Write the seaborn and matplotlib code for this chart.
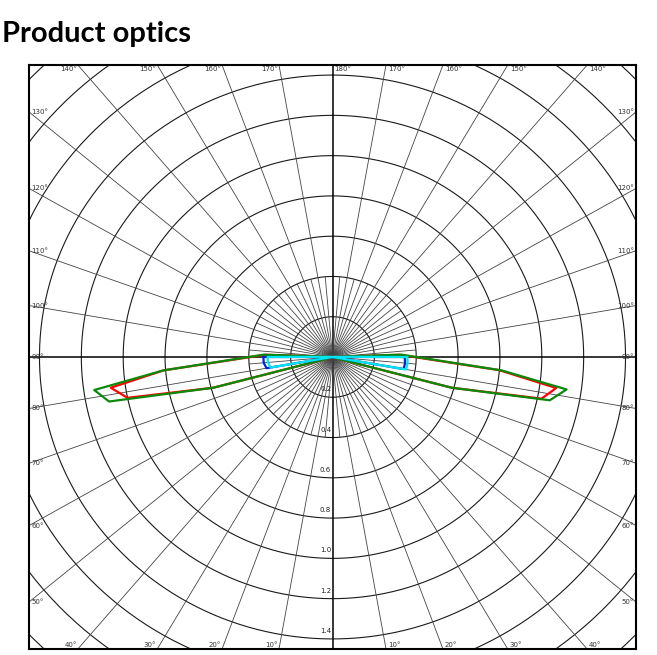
import numpy as np
import pandas as pd
import seaborn as sns
import matplotlib.pyplot as plt

# gamma angle (deg from nadir) and relative intensity
gamma_rg = [0, 65, 70, 75, 78.3, 81.8, 85.3, 92, 96, 180]
green_left = [0, 0, 0.02, 0.59, 1.09, 1.15, 0.81, 0.33, 0.01, 0]
green_right = [0, 0, 0.02, 0.59, 1.06, 1.13, 0.81, 0.33, 0.01, 0]
red_left = [0, 0, 0.02, 0.59, 1.00, 1.07, 0.81, 0.32, 0.01, 0]
red_right = [0, 0, 0.02, 0.59, 1.02, 1.08, 0.80, 0.32, 0.01, 0]

gamma_bc = [0, 75, 80, 85, 90, 95, 180]
blue_left = [0, 0, 0.32, 0.33, 0.33, 0, 0]
blue_right = [0, 0, 0.345, 0.348, 0.345, 0, 0]
cyan_left = [0, 0, 0.30, 0.31, 0.31, 0.01, 0]
cyan_right = [0, 0, 0.357, 0.36, 0.358, 0.01, 0]

ring_labels = ["0.2", "0.4", "0.6", "0.8", "1.0", "1.2", "1.4"]
ring_vals = [0.2, 0.4, 0.6, 0.8, 1.0, 1.2, 1.4]
curve_colors = {"red": "#ff0000", "green": "#0a8a0a", "blue": "#0022dd", "cyan": "#00e5ee"}

EDGE = 1.45

sns.set_theme(style="white")
plt.rcParams['font.family'] = ['DejaVu Sans']

fig = plt.figure(figsize=(6.57, 6.55), dpi=100)
ax = fig.add_axes([29/657, 6/655, 607/657, 584/655])
ax.set_xlim(-EDGE, EDGE)
ax.set_ylim(-EDGE, EDGE)

# rings
t = np.linspace(0, 2*np.pi, 400)
for r in np.arange(0.2, 2.3, 0.2):
    ax.plot(r*np.sin(t), r*np.cos(t), color="#1a1a1a", lw=0.8, zorder=1)

# radial lines, 10 deg full length, 5 deg ones near the centre
for a in range(0, 360, 10):
    ar = np.radians(a)
    main = a % 90 == 0
    ax.plot([0, 3*np.sin(ar)], [0, 3*np.cos(ar)], color="black" if main else "#444444",
            lw=1.1 if main else 0.6, zorder=1)
for a in range(5, 360, 10):
    ar = np.radians(a)
    ax.plot([0, 0.4*np.sin(ar)], [0, 0.4*np.cos(ar)], color="#444444", lw=0.6, zorder=1)

# photometric curves
rows = []
def add_curve(name, gam, left, right):
    g = np.radians(gam)
    left = np.array(left)
    right = np.array(right)
    xr, yr = right*np.sin(g), -right*np.cos(g)
    xl, yl = -left*np.sin(g), -left*np.cos(g)
    x = np.concatenate([xr[::-1], xl])
    y = np.concatenate([yr[::-1], yl])
    for i in range(len(x)):
        rows.append((name, i, x[i], y[i]))

add_curve("red", gamma_rg, red_left, red_right)
add_curve("green", gamma_rg, green_left, green_right)
add_curve("blue", gamma_bc, blue_left, blue_right)
add_curve("cyan", gamma_bc, cyan_left, cyan_right)
df = pd.DataFrame(rows, columns=["curve", "i", "x", "y"])

sns.lineplot(data=df, x="x", y="y", hue="curve", hue_order=["red", "green", "blue", "cyan"],
             palette=curve_colors, sort=False, estimator=None, legend=False, ax=ax,
             linewidth=1.6, zorder=3)

# ring values along the nadir line
for lab, r in zip(ring_labels, ring_vals):
    ax.text(-0.006, -r + 0.025, lab, ha="right", va="bottom", fontsize=5, color="#222222")

# angle labels round the frame
px = 1/209.3
py = 1/201.4
for a in range(10, 181, 10):
    for side in (-1, 1):
        if a == 180 and side == -1:
            continue
        ar = np.radians(a)
        dx = side*np.sin(ar)
        dy = -np.cos(ar)
        k = EDGE / max(abs(dx), abs(dy))
        xe, ye = dx*k, dy*k
        lab = f"{a}°"
        if abs(dx) >= abs(dy) - 1e-9:
            if side < 0:
                ax.text(-EDGE + 2*px, ye, lab, ha="left", va="center", fontsize=5, color="#333333")
            else:
                ax.text(EDGE - 2*px, ye, lab, ha="right", va="center", fontsize=5, color="#333333")
        else:
            va = "bottom" if dy < 0 else "top"
            yy = -EDGE + 1*py if dy < 0 else EDGE - 1*py
            ha = "right" if side < 0 else "left"
            xx = xe - px if side < 0 else xe + 2*px
            if a == 180:
                xx = 2*px
            ax.text(xx, yy, lab, ha=ha, va=va, fontsize=5, color="#333333")

ax.set_xticks([])
ax.set_yticks([])
ax.set_xlabel("")
ax.set_ylabel("")
for s in ax.spines.values():
    s.set_visible(True)
    s.set_color("black")
    s.set_linewidth(1.5)

fig.text(2/657, 1 - 42/655, "Product optics", fontsize=21, fontweight="bold",
         family="Lato", color="black", va="baseline", ha="left")

fig.savefig("out.png", dpi=100)
